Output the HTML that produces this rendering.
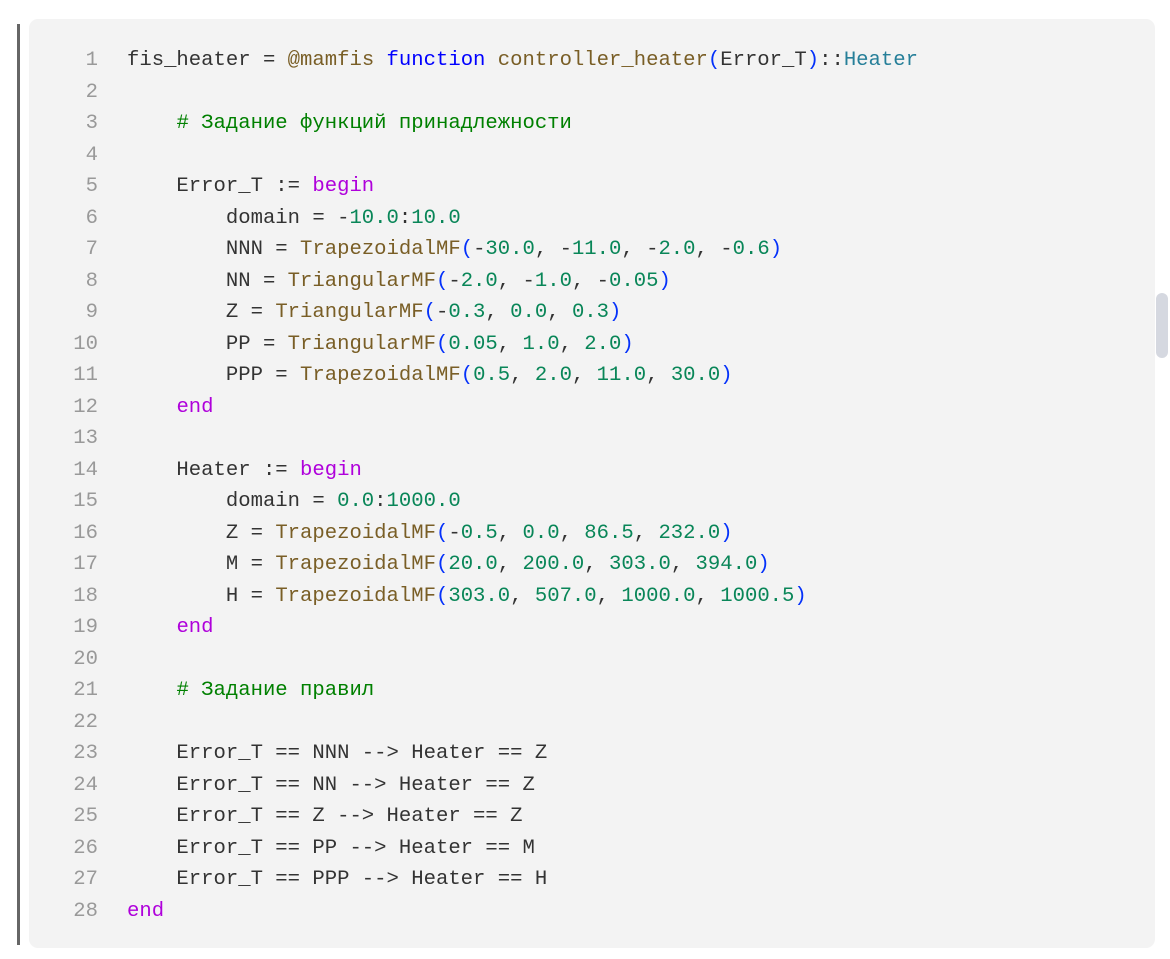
<!DOCTYPE html>
<html><head><meta charset="utf-8"><style>
html,body{margin:0;padding:0;background:#fff;width:1170px;height:959px;overflow:hidden;position:relative}
.bar{position:absolute;left:17px;top:24px;width:3px;height:921px;background:#666}
.box{position:absolute;left:29px;top:19px;width:1126px;height:929px;background:#f3f3f3;border-radius:9px}
.sb{position:absolute;left:1156px;top:293px;width:12px;height:65px;background:#d5d8e0;border-radius:6px}
.code{position:absolute;left:0;top:45px;width:1170px;font-family:"Liberation Mono","DejaVu Sans Mono",monospace;font-size:20.6px;color:#333}
.l{height:31.52px;line-height:31.52px;position:relative}
.n{position:absolute;left:40px;width:58px;text-align:right;color:#999}
.t{position:absolute;left:127px;white-space:pre}
.k{color:#0000ff}.f{color:#795e26}.d{color:#098658}.c{color:#008000}.p{color:#af00db}.ty{color:#267f99}.b{color:#0431fa}
</style></head><body>
<div class="bar"></div><div class="box"></div><div class="sb"></div>
<div class="code">
<div class="l"><span class="n">1</span><span class="t">fis_heater = <span class="f">@mamfis</span> <span class="k">function</span> <span class="f">controller_heater</span><span class="b">(</span>Error_T<span class="b">)</span>::<span class="ty">Heater</span></span></div>
<div class="l"><span class="n">2</span></div>
<div class="l"><span class="n">3</span><span class="t">    <span class="c"># Задание функций принадлежности</span></span></div>
<div class="l"><span class="n">4</span></div>
<div class="l"><span class="n">5</span><span class="t">    Error_T := <span class="p">begin</span></span></div>
<div class="l"><span class="n">6</span><span class="t">        domain = -<span class="d">10.0</span>:<span class="d">10.0</span></span></div>
<div class="l"><span class="n">7</span><span class="t">        NNN = <span class="f">TrapezoidalMF</span><span class="b">(</span>-<span class="d">30.0</span>, -<span class="d">11.0</span>, -<span class="d">2.0</span>, -<span class="d">0.6</span><span class="b">)</span></span></div>
<div class="l"><span class="n">8</span><span class="t">        NN = <span class="f">TriangularMF</span><span class="b">(</span>-<span class="d">2.0</span>, -<span class="d">1.0</span>, -<span class="d">0.05</span><span class="b">)</span></span></div>
<div class="l"><span class="n">9</span><span class="t">        Z = <span class="f">TriangularMF</span><span class="b">(</span>-<span class="d">0.3</span>, <span class="d">0.0</span>, <span class="d">0.3</span><span class="b">)</span></span></div>
<div class="l"><span class="n">10</span><span class="t">        PP = <span class="f">TriangularMF</span><span class="b">(</span><span class="d">0.05</span>, <span class="d">1.0</span>, <span class="d">2.0</span><span class="b">)</span></span></div>
<div class="l"><span class="n">11</span><span class="t">        PPP = <span class="f">TrapezoidalMF</span><span class="b">(</span><span class="d">0.5</span>, <span class="d">2.0</span>, <span class="d">11.0</span>, <span class="d">30.0</span><span class="b">)</span></span></div>
<div class="l"><span class="n">12</span><span class="t">    <span class="p">end</span></span></div>
<div class="l"><span class="n">13</span></div>
<div class="l"><span class="n">14</span><span class="t">    Heater := <span class="p">begin</span></span></div>
<div class="l"><span class="n">15</span><span class="t">        domain = <span class="d">0.0</span>:<span class="d">1000.0</span></span></div>
<div class="l"><span class="n">16</span><span class="t">        Z = <span class="f">TrapezoidalMF</span><span class="b">(</span>-<span class="d">0.5</span>, <span class="d">0.0</span>, <span class="d">86.5</span>, <span class="d">232.0</span><span class="b">)</span></span></div>
<div class="l"><span class="n">17</span><span class="t">        M = <span class="f">TrapezoidalMF</span><span class="b">(</span><span class="d">20.0</span>, <span class="d">200.0</span>, <span class="d">303.0</span>, <span class="d">394.0</span><span class="b">)</span></span></div>
<div class="l"><span class="n">18</span><span class="t">        H = <span class="f">TrapezoidalMF</span><span class="b">(</span><span class="d">303.0</span>, <span class="d">507.0</span>, <span class="d">1000.0</span>, <span class="d">1000.5</span><span class="b">)</span></span></div>
<div class="l"><span class="n">19</span><span class="t">    <span class="p">end</span></span></div>
<div class="l"><span class="n">20</span></div>
<div class="l"><span class="n">21</span><span class="t">    <span class="c"># Задание правил</span></span></div>
<div class="l"><span class="n">22</span></div>
<div class="l"><span class="n">23</span><span class="t">    Error_T == NNN --&gt; Heater == Z</span></div>
<div class="l"><span class="n">24</span><span class="t">    Error_T == NN --&gt; Heater == Z</span></div>
<div class="l"><span class="n">25</span><span class="t">    Error_T == Z --&gt; Heater == Z</span></div>
<div class="l"><span class="n">26</span><span class="t">    Error_T == PP --&gt; Heater == M</span></div>
<div class="l"><span class="n">27</span><span class="t">    Error_T == PPP --&gt; Heater == H</span></div>
<div class="l"><span class="n">28</span><span class="t"><span class="p">end</span></span></div>
</div>
</body></html>
